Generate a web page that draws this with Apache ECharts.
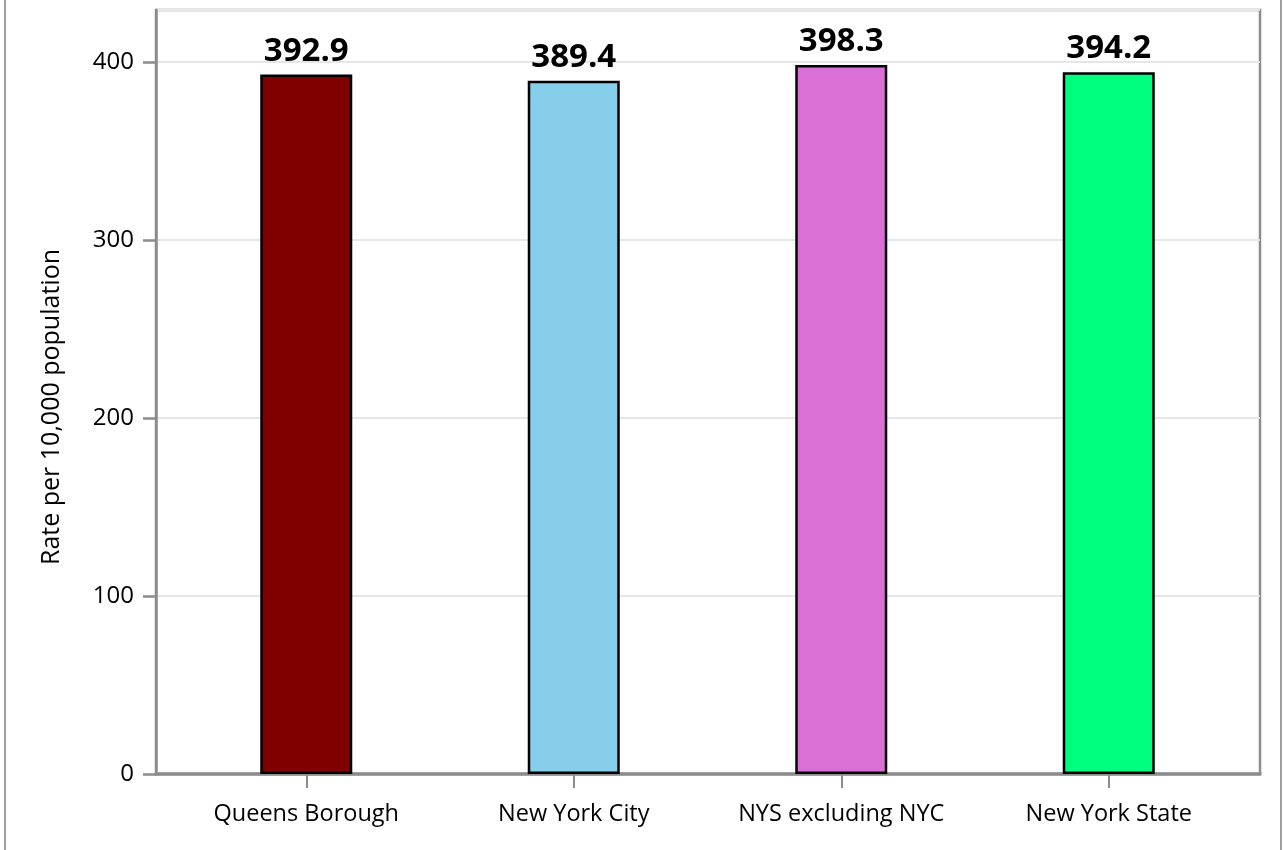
<!DOCTYPE html>
<html>
<head>
<meta charset="utf-8">
<script src="https://cdn.jsdelivr.net/npm/echarts@6/dist/echarts.min.js"></script>
<style>html,body{margin:0;padding:0;background:#fff}#c{width:1283px;height:850px}</style>
</head>
<body>
<div id="c"></div>
<script>
const categories = ['Queens Borough', 'New York City', 'NYS excluding NYC', 'New York State'];
const values = [392.9, 389.4, 398.3, 394.2];
const barColors = ['#800000', '#87CEEB', '#DA70D6', '#00FF7F'];
const yTicks = [0, 100, 200, 300, 400];
const yAxisTitle = 'Rate per 10,000 population';

const FONT = 'Open Sans';
const GRAY = '#8c8c8c';
const yMax = 429.2;

const chart = echarts.init(document.getElementById('c'), null, {renderer: 'canvas'});
chart.setOption({
  animation: false,
  backgroundColor: '#fff',
  textStyle: {fontFamily: FONT},
  graphic: [
    {type: 'line', shape: {x1: 5, y1: 0, x2: 5, y2: 850}, style: {stroke: '#a0a0a0', lineWidth: 2}},
    {type: 'line', shape: {x1: 1281, y1: 0, x2: 1281, y2: 850}, style: {stroke: '#a0a0a0', lineWidth: 2}}
  ],
  grid: [
    {left: 156, right: 23, top: 10, bottom: 76, show: true, borderColor: GRAY, borderWidth: 2.5, backgroundColor: 'transparent'},
    {left: 172.5, right: 40.5, top: 10, bottom: 76}
  ],
  xAxis: [
    {gridIndex: 0, type: 'value', min: 0, max: 1, position: 'bottom',
     axisLine: {show: true, lineStyle: {color: GRAY, width: 3.5}},
     axisTick: {show: false}, axisLabel: {show: false}, splitLine: {show: false}},
    {gridIndex: 1, type: 'category', data: categories, position: 'bottom',
     axisLine: {show: false},
     axisTick: {show: true, interval: 0, alignWithLabel: true, length: 14, lineStyle: {color: GRAY, width: 2}},
     axisLabel: {interval: 0, color: '#000', fontSize: 23.5, margin: 28, fontFamily: FONT}}
  ],
  yAxis: [
    {gridIndex: 0, type: 'value', min: 0, max: yMax, interval: 100,
     name: yAxisTitle, nameLocation: 'middle', nameRotate: 90, nameGap: 92,
     nameTextStyle: {color: '#000', fontSize: 25, fontFamily: FONT, padding: [0, 30, 0, 0]},
     axisLine: {show: true, lineStyle: {color: GRAY, width: 2.5}},
     axisTick: {show: true, length: 13, lineStyle: {color: GRAY, width: 2.5}},
     axisLabel: {color: '#000', fontSize: 24, margin: 22, showMaxLabel: false, fontFamily: FONT,
       formatter: v => yTicks.includes(v) ? String(v) : ''},
     splitLine: {show: true, lineStyle: {color: '#e6e6e6', width: 2}}},
    {gridIndex: 1, type: 'value', min: 0, max: yMax, interval: 100, show: false, splitLine: {show: false}}
  ],
  series: [{
    type: 'bar', xAxisIndex: 1, yAxisIndex: 1,
    barWidth: '34.4%',
    data: values.map((v, i) => ({value: v, itemStyle: {color: barColors[i]}})),
    itemStyle: {borderColor: '#000', borderWidth: 2.5},
    label: {show: true, position: 'top', distance: 7, color: '#000', fontSize: 33, fontWeight: 'bold', fontFamily: FONT,
      formatter: p => p.value.toFixed(1)}
  }]
});
</script>
</body>
</html>
